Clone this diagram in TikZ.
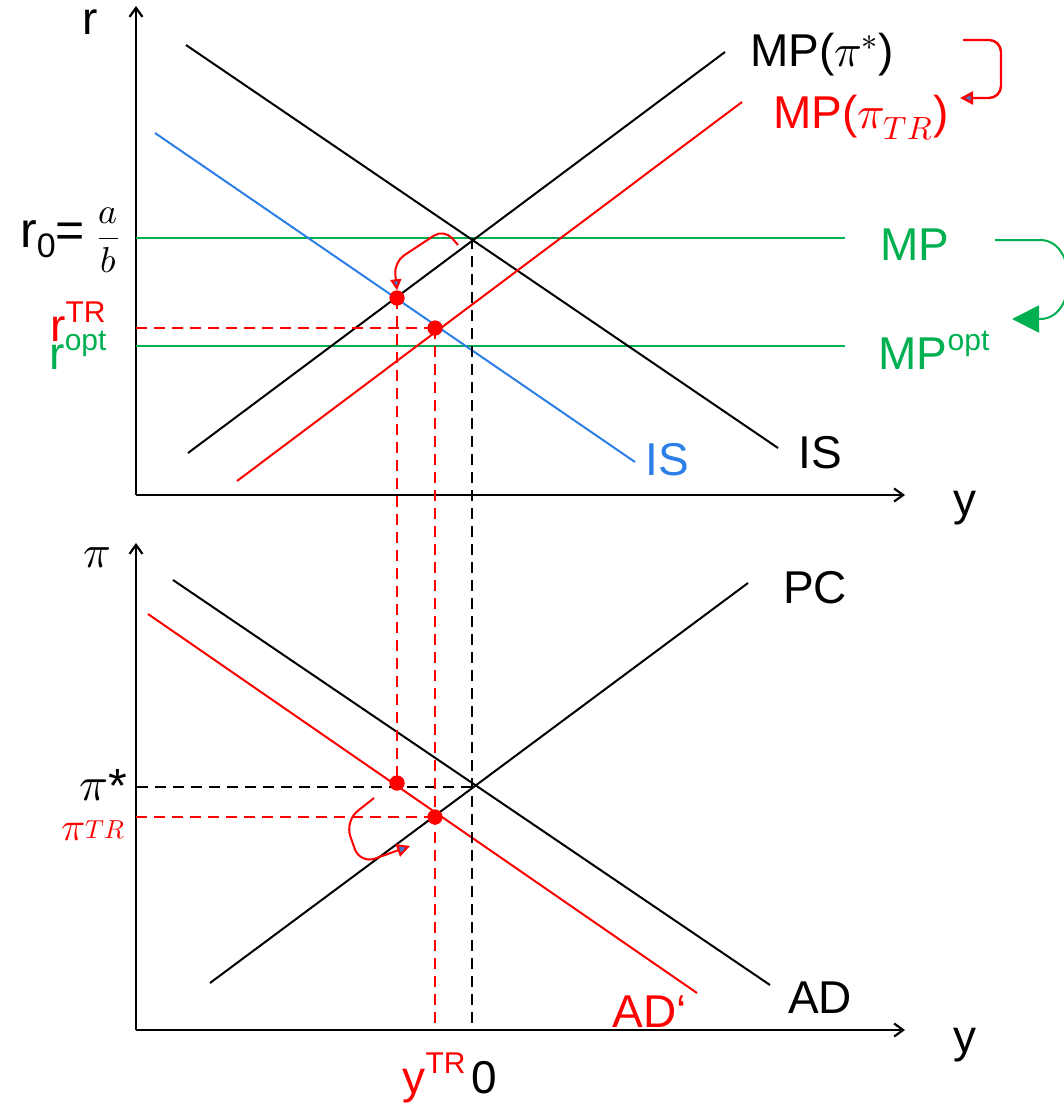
\documentclass[tikz,border=0pt]{standalone}
\usepackage{fontspec}
\usepackage{unicode-math}
\setmainfont{Liberation Sans}
\setmathfont{Latin Modern Math}
\usetikzlibrary{arrows.meta}
\definecolor{mpgreen}{HTML}{00B050}
\definecolor{isblue}{HTML}{2C7FE6}
\definecolor{tipblue}{HTML}{4472C4}
\newcommand\supx[1]{\raisebox{0.42em}{\fontsize{30}{30}\selectfont #1}}
\begin{document}
\begin{tikzpicture}[x=1pt,y=-1pt,
  axis/.style={line width=2.2pt,-{Straight Barb[length=9pt,width=13pt]}},
  curve/.style={line width=2pt},
  dashk/.style={line width=2pt,dash pattern=on 11pt off 7pt},
  dot/.style={circle,fill=red,inner sep=0pt,minimum size=15pt},
  lbl/.style={font=\fontsize{46}{52}\selectfont,inner sep=0pt},
  bent/.style={line width=2pt,red,rounded corners=12pt,-{Triangle[length=13pt,width=13pt,fill=tipblue]}}
]
\useasboundingbox (0,0) rectangle (1064,1104);
% axes
\coordinate (O1) at (136,495); \coordinate (Y1) at (905,495); \coordinate (R1) at (136,6);
\coordinate (O2) at (136,1030); \coordinate (Y2) at (905,1030); \coordinate (P2) at (136,543);
\draw[axis] (O1) -- (R1);
\draw[axis] (O1) -- (Y1);
\draw[axis] (O2) -- (P2);
\draw[axis] (O2) -- (Y2);
% key points
\coordinate (E1) at (472,238);
\coordinate (E2) at (472,787);
% top curves
\coordinate (mpa) at (188,453); \coordinate (mpb) at (725,52);
\coordinate (mra) at (237,481); \coordinate (mrb) at (742,102);
\coordinate (isa) at (186,45); \coordinate (isb) at (778,448);
\coordinate (iba) at (155,133); \coordinate (ibb) at (635,462);
\coordinate (g0a) at (136,238); \coordinate (g0b) at (845,238);
\coordinate (g1a) at (136,346); \coordinate (g1b) at (845,346);
\draw[curve,mpgreen] (g0a) -- (g0b);
\draw[curve,mpgreen] (g1a) -- (g1b);
\draw[curve,isblue] (iba) -- (ibb);
\draw[curve] (isa) -- (isb);
\draw[curve] (mpa) -- (mpb);
\draw[curve,red] (mra) -- (mrb);
% bottom curves
\coordinate (pca) at (210,983); \coordinate (pcb) at (748,583);
\coordinate (ada) at (173,580); \coordinate (adb) at (770,985);
\coordinate (ara) at (148,614); \coordinate (arb) at (697,993);
\draw[curve] (pca) -- (pcb);
\draw[curve] (ada) -- (adb);
\draw[curve,red] (ara) -- (arb);
% dots
\node[dot] (d1) at (397,298) {};
\node[dot] (d2) at (435,328) {};
\node[dot] (d3) at (397,783) {};
\node[dot] (d4) at (435,817) {};
% dashed
\draw[dashk] (E1) -- (E1 |- O2);
\draw[dashk] (E2) -- (E2 -| O2);
\draw[dashk,red] (d2.center) -- (d2.center -| O1);
\draw[dashk,red] (d1.center) -- (d3.center);
\draw[dashk,red] (d2.center) -- (d2.center |- O2);
\draw[dashk,red] (d4.center) -- (d4.center -| O2);
\node[dot] at (d1) {}; \node[dot] at (d2) {}; \node[dot] at (d3) {}; \node[dot] at (d4) {};
% bent arrows
\coordinate (ta0) at (963,40);
\coordinate (ta1) at (960,98);
\draw[bent,line width=2.4pt] (ta0) -- (1001,40) -- (1001,98) -- (ta1);
\coordinate (ga0) at (995,240);
\coordinate (ga1) at (1012,319);
\draw[line width=2pt,mpgreen,-{Triangle[length=27pt,width=27pt]}] (ga0) -- (1040,240) .. controls (1078,240) and (1078,319) .. (1040,319) -- (ga1);
\coordinate (sa0) at (458,245);
\draw[bent,-{Triangle[length=11pt,width=11pt,fill=tipblue]}] (sa0) -- (444,229) -- (394,262) -- (d1.north);
\coordinate (ba0) at (374,798);
\coordinate (ba1) at (410,846);
\draw[bent,rounded corners=16pt] (ba0) -- (345,821) -- (360,864) -- (ba1);
% labels
\node[lbl] (lr) at (90,22) {r};
\node[lbl] (ly1) at (965,508) {y};
\node[lbl] (lpi) at (97,558) {$\pi$};
\node[lbl] (ly2) at (965,1045) {y};
\node[lbl] (lmp) at (822,55) {MP($\pi^*$)};
\node[lbl,red] (lmptr) at (861,118) {MP($\pi_{TR}$)};
\node[lbl,mpgreen] (lmpg) at (915,245) {MP};
\node[lbl,mpgreen] (lmpo) at (934,350) {MP\supx{opt}};
\node[lbl,isblue] (lisb) at (667,460) {IS};
\node[lbl] (lis) at (820,453) {IS};
\node[lbl] (lpc) at (815,588) {PC};
\node[lbl] (lad) at (820,998) {AD};
\node[lbl,red] (ladr) at (650,1012) {AD‘};
\node[lbl,anchor=west] (lr0) at (20,240) {\fontsize{50}{52}\selectfont r\raisebox{-0.2em}{\fontsize{34}{34}\selectfont 0}=\hspace{0.25em}{\fontsize{36}{40}\selectfont$\displaystyle\frac{a}{b}$}};
\node[lbl,red] (lrtr) at (78,322) {r\supx{TR}};
\node[lbl,mpgreen] (lrop) at (78,350) {r\supx{opt}};
\node[lbl,anchor=base east] (lpis) at (127,800) {\fontsize{48}{50}\selectfont$\pi$\raisebox{-0.05em}{*}};
\node[lbl,red,anchor=base east] (lpitr) at (125,840) {\fontsize{40}{40}\selectfont$\pi$\raisebox{0.05em}{\fontsize{26}{26}\selectfont$TR$}};
\node[lbl,red] (lytr) at (434,1078) {y\supx{TR}};
\node[lbl] (l0) at (484,1078) {0};
\end{tikzpicture}
\end{document}
